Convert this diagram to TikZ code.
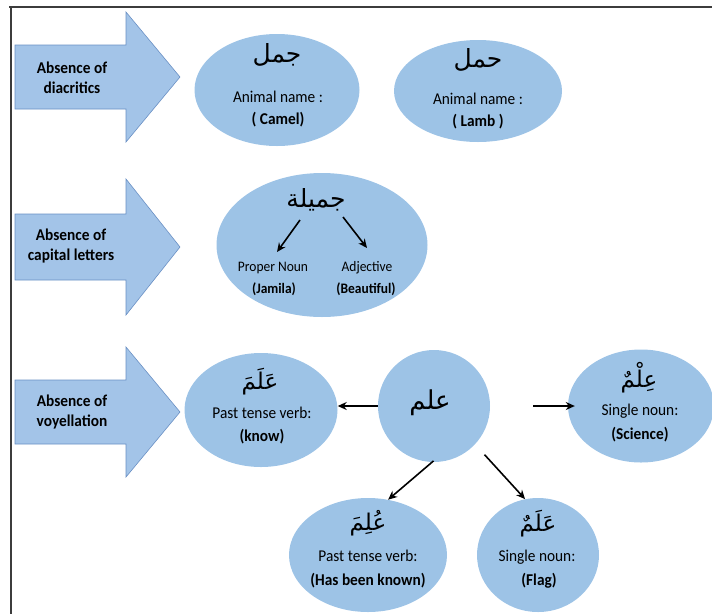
\documentclass[tikz,border=0pt]{standalone}
\usepackage{fontspec}
\setmainfont{Carlito}[FakeStretch=0.93]
\newfontfamily\arabicfont[Script=Arabic]{DejaVu Sans}
\TeXXeTstate=1
\usetikzlibrary{shapes.geometric,arrows.meta}
\definecolor{bubblefill}{HTML}{9DC3E6}
\definecolor{arrowfill}{HTML}{A3C4E8}
\definecolor{arrowedge}{HTML}{6A90C4}
\definecolor{framegray}{HTML}{3C3C3C}

\begin{document}
\begin{tikzpicture}[x=1pt,y=-1pt,
  bubble/.style={ellipse, fill=bubblefill, draw=none, inner sep=0pt},
  fatarrow/.style={fill=arrowfill, draw=arrowedge, line width=0.6pt, line join=miter},
  tag/.style={font=\fontsize{16.5}{20}\selectfont\bfseries, align=center, inner sep=0pt},
  lbl/.style={font=\fontsize{16.5}{20}\selectfont, inner sep=0pt, text height=11pt, text depth=3pt},
  blbl/.style={lbl, font=\fontsize{16.5}{20}\selectfont\bfseries},
  slbl/.style={font=\fontsize{14.5}{18}\selectfont, inner sep=0pt, text height=10pt, text depth=3pt},
  sblbl/.style={slbl, font=\fontsize{14.5}{18}\selectfont\bfseries},
  arword/.style={font=\arabicfont\fontsize{23}{27}\selectfont, inner sep=0pt},
  link/.style={line width=1.6pt, -{Stealth[length=9pt,width=8pt]}}
]
\useasboundingbox (0,0) rectangle (712,614);

% frame lines (top and left)
\draw[framegray, line width=1.8pt] (9,7) -- (712,7);
\draw[framegray, line width=1.8pt] (11,7) -- (11,614);

% block arrows on the left
\draw[fatarrow, shift={(0,77)}]  (15,-32) -- (126,-32) -- (126,-65) -- (180,0) -- (126,65) -- (126,32) -- (15,32) -- cycle;
\draw[fatarrow, shift={(0,247)}] (15,-33) -- (126,-33) -- (126,-68) -- (180,0) -- (126,68) -- (126,33) -- (15,33) -- cycle;
\draw[fatarrow, shift={(0,412)}] (15,-32) -- (126,-32) -- (126,-65) -- (180,0) -- (126,65) -- (126,32) -- (15,32) -- cycle;

\node[tag] (t1) at (72,78)  {Absence of\\diacritics};
\node[tag] (t2) at (71,246) {Absence of\\capital letters};
\node[tag] (t3) at (72,412) {Absence of\\voyellation};

% row 1: diacritics
\node[bubble, minimum width=165pt, minimum height=112pt] (jamal) at (277,90) {};
\node[arword, font=\arabicfont\fontsize{25}{29}\selectfont] (jamalW) at (277,55) {\beginR جمل\endR};
\node[lbl]  (jamalA) at (278,98)  {Animal name :};
\node[blbl] (jamalB) at (278,120) {( Camel)};

\node[bubble, minimum width=168pt, minimum height=102pt] (haml) at (478,91) {};
\node[arword, font=\arabicfont\fontsize{25}{29}\selectfont] (hamlW) at (478,60) {\beginR حمل\endR};
\node[lbl]  (hamlA) at (478,100) {Animal name :};
\node[blbl] (hamlB) at (478,122) {( Lamb )};

% row 2: capital letters
\node[bubble, minimum width=211pt, minimum height=144pt] (jamila) at (322,245) {};
\node[arword, font=\arabicfont\fontsize{25}{29}\selectfont] (jamilaW) at (316,200) {\beginR جميلة\endR};
\node[slbl]  (pn)  at (273,268) {Proper Noun};
\node[sblbl] (pnB) at (274,290) {(Jamila)};
\node[slbl]  (adj)  at (367,268) {Adjective};
\node[sblbl] (adjB) at (366,290) {(Beautiful)};
\coordinate (jl0) at (300,220);
\coordinate (jl1) at (277,252);
\coordinate (jr0) at (343,217);
\coordinate (jr1) at (367,248);
\draw[link] (jl0) -- (jl1);
\draw[link] (jr0) -- (jr1);

% row 3: vowelling
\node[bubble, minimum width=153pt, minimum height=114pt] (verb) at (261,410) {};
\node[arword] (verbW) at (260,382) {\beginR عَلَمَ\endR};
\node[lbl]  (verbA) at (262,414) {Past tense verb:};
\node[blbl] (verbB) at (262,437) {(know)};

\node[bubble, minimum width=112pt, minimum height=112pt] (root) at (434,406) {};
\node[arword, font=\arabicfont\fontsize{26}{30}\selectfont] (rootW) at (430,403) {\beginR علم\endR};

\node[bubble, minimum width=146pt, minimum height=113pt] (sci) at (641,406) {};
\node[arword] (sciW) at (639,378) {\beginR عِلْمٌ\endR};
\node[lbl]  (sciA) at (640,411) {Single noun:};
\node[blbl] (sciB) at (640,435) {(Science)};

\node[bubble, minimum width=158pt, minimum height=114pt] (known) at (368,555) {};
\node[arword] (knownW) at (368,523) {\beginR عُلِمَ\endR};
\node[lbl]  (knownA) at (368,557) {Past tense verb:};
\node[blbl] (knownB) at (368,581) {(Has been known)};

\node[bubble, minimum width=122pt, minimum height=114pt] (flag) at (538,555) {};
\node[arword] (flagW) at (538,524) {\beginR عَلَمٌ\endR};
\node[lbl]  (flagA) at (537,557) {Single noun:};
\node[blbl] (flagB) at (539,581) {(Flag)};

\draw[link] (root.west) -- (root.west -| verb.east);
\draw[link, shorten <=43pt, shorten >=-7pt] (root.east) -- (root.east -| sci.west);
\draw[link, shorten <=-2pt] (root.-92) -- (known.70);
\draw[link, shorten <=14pt] (root.-43) -- (flag.103);
\end{tikzpicture}
\end{document}
